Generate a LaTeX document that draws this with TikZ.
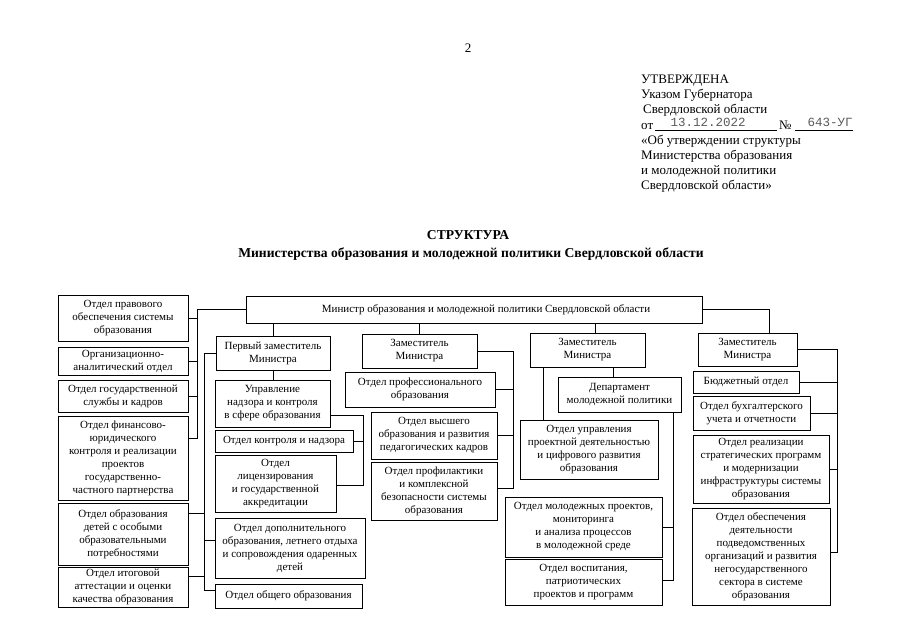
\documentclass[tikz,border=0pt]{standalone}
\usepackage{fontspec}
\setmainfont{Liberation Serif}
\newfontfamily\stampfont{Liberation Mono}
\newcommand\mybox[6]{%
  \node[bx, minimum width={#4pt-#2pt}, minimum height={#5pt-#3pt}] (#1) at ({(#2+#4)/2},{(#3+#5)/2}) {#6};}
\begin{document}
\begin{tikzpicture}[x=1pt,y=-1pt,
  bx/.style={draw, line width=0.9pt, inner sep=0pt, outer sep=0pt, align=center,
             font=\fontsize{11}{13}\selectfont},
  ln/.style={line width=0.7pt},
  hd/.style={inner sep=0pt, font=\fontsize{13}{15}\selectfont},
  stamp/.style={inner sep=0pt, text=black!65, font=\stampfont\fontsize{12.5}{15}\selectfont},
  ttl/.style={inner sep=0pt, font=\bfseries\fontsize{13.6}{15}\selectfont}]
\useasboundingbox (0,0) rectangle (905,640);

% page number and header
\node[hd] (pg) at (468,48) {2};
\node[hd, anchor=base west] (h1) at (641,83) {УТВЕРЖДЕНА};
\node[hd, anchor=base west] (h2) at (641,98) {Указом Губернатора};
\node[hd, anchor=base west] (h3) at (643,113) {Свердловской области};
\node[hd, anchor=base west] (h4) at (641,129) {от};
\draw[line width=0.6pt] (655,130) -- (777,130);
\node[stamp, anchor=base] (date) at (708,126) {13.12.2022};
\node[hd, anchor=base west] (no) at (779,129) {№};
\draw[line width=0.6pt] (795,130) -- (853,130);
\node[stamp, anchor=base] (num) at (830,126) {643-УГ};
\node[hd, anchor=base west] (h5) at (641,144) {«Об утверждении структуры};
\node[hd, anchor=base west] (h6) at (641,159) {Министерства образования};
\node[hd, anchor=base west] (h7) at (641,174) {и молодежной политики};
\node[hd, anchor=base west] (h8) at (641,189) {Свердловской области»};

% title
\node[ttl] (t1) at (468,235) {СТРУКТУРА};
\node[ttl] (t2) at (471,254) {Министерства образования и молодежной политики Свердловской области};

% minister
\mybox{min}{246}{296}{702}{323}{\raisebox{2pt}{\hspace*{24pt}Министр образования и молодежной политики Свердловской области}}

% left column
\mybox{l1}{58}{295}{188}{341}{Отдел правового\\обеспечения системы\\образования}
\mybox{l2}{58}{347}{188}{375}{Организационно-\\аналитический отдел}
\mybox{l3}{58}{380}{188}{412}{Отдел государственной\\службы и кадров}
\mybox{l4}{58}{416}{188}{500}{Отдел финансово-\\юридического\\контроля и реализации\\проектов\\государственно-\\частного партнерства}
\mybox{l5}{58}{503}{188}{565}{Отдел образования\\детей с особыми\\образовательными\\потребностями}
\mybox{l6}{58}{567}{188}{607}{Отдел итоговой\\аттестации и оценки\\качества образования}

% first deputy column
\mybox{d1}{216}{336}{330}{370}{Первый заместитель\\Министра}
\mybox{u1}{215}{380}{330}{427}{Управление\\надзора и контроля\\в сфере образования}
\mybox{k1}{215}{430}{353}{452}{Отдел контроля и надзора}
\mybox{lic}{215}{455}{336}{512}{Отдел\\лицензирования\\и государственной\\аккредитации}
\mybox{dop}{215}{518}{365}{578}{Отдел дополнительного\\образования, летнего отдыха\\и сопровождения одаренных\\детей}
\mybox{obsh}{215}{584}{362}{608}{Отдел общего образования}

% second deputy column
\mybox{d2}{362}{334}{477}{368}{Заместитель\\Министра}
\mybox{p2a}{345}{372}{495}{407}{Отдел профессионального\\образования}
\mybox{p2b}{371}{412}{497}{459}{Отдел высшего\\образования и развития\\педагогических кадров}
\mybox{p2c}{371}{462}{497}{520}{Отдел профилактики\\и комплексной\\безопасности системы\\образования}

% third deputy column
\mybox{d3}{530}{333}{645}{367}{Заместитель\\Министра}
\mybox{dep}{558}{377}{681}{412}{Департамент\\молодежной политики}
\mybox{pr3}{520}{420}{658}{479}{Отдел управления\\проектной деятельностью\\и цифрового развития\\образования}
\mybox{my3}{505}{497}{662}{557}{Отдел молодежных проектов,\\мониторинга\\и анализа процессов\\в молодежной среде}
\mybox{vo3}{505}{559}{662}{605}{Отдел воспитания,\\патриотических\\проектов и программ}

% fourth deputy column
\mybox{d4}{698}{333}{797}{366}{Заместитель\\Министра}
\mybox{bd4}{693}{371}{799}{393}{Бюджетный отдел}
\mybox{bu4}{693}{396}{810}{430}{Отдел бухгалтерского\\учета и отчетности}
\mybox{re4}{693}{435}{829}{503}{Отдел реализации\\стратегических программ\\и модернизации\\инфраструктуры системы\\образования}
\mybox{ob4}{692}{508}{830}{605}{Отдел обеспечения\\деятельности\\подведомственных\\организаций и развития\\негосударственного\\сектора в системе\\образования}

% bus coordinates
\coordinate (busL) at (197,0);
\coordinate (busLend) at (197,438);
\coordinate (busA) at (204,0);
\coordinate (busAend) at (204,590);
\coordinate (busU) at (363,0);
\coordinate (busUtop) at (363,415);
\coordinate (busUend) at (363,485);
\coordinate (busB) at (513,0);
\coordinate (busBend) at (513,488);
\coordinate (xD3) at (595,0);
\coordinate (xP) at (543,0);
\coordinate (xD) at (613,0);
\coordinate (busC) at (673,0);
\coordinate (busCend) at (673,580);
\coordinate (xE) at (769,0);
\coordinate (busD) at (837,0);
\coordinate (busDend) at (837,552);

% left bus
\draw[ln] (min.west) -| (busLend) -- (busLend -| l4.east);
\draw[ln] (l1.east) -- (l1.east -| busL);
\draw[ln] (l2.east) -- (l2.east -| busL);
\draw[ln] (l3.east) -- (l3.east -| busL);

% first deputy
\draw[ln] (d1.north) -- (d1.north |- min.south);
\draw[ln] (d1.south) -- (d1.south |- u1.north);
\draw[ln] (d1.west) -| (busAend) -- (busAend -| obsh.west);
\draw[ln] ([yshift=21pt]l5.east) -- ([yshift=21pt]l5.east -| busA);
\draw[ln] ([yshift=11pt]l6.east) -- ([yshift=11pt]l6.east -| busA);
\draw[ln] ([yshift=8pt]dop.west) -- ([yshift=8pt]dop.west -| busA);
\draw[ln] (u1.east |- busUtop) -- (busUtop) -- (busUend) -- (busUend -| lic.east);
\draw[ln] (k1.east) -- (k1.east -| busU);

% second deputy
\draw[ln] (d2.north) -- (d2.north |- min.south);
\draw[ln] (d2.east) -| (busBend) -- (busBend -| p2c.east);
\draw[ln] (p2a.east) -- (p2a.east -| busB);
\draw[ln] (p2b.east) -- (p2b.east -| busB);

% third deputy
\draw[ln] (min.south -| xD3) -- (d3.north -| xD3);
\draw[ln] (d3.south -| xP) -- (pr3.north -| xP);
\draw[ln] (d3.south -| xD) -- (dep.north -| xD);
\draw[ln] (dep.south -| busC) -- (busCend) -- (busCend -| vo3.east);
\draw[ln] (my3.east) -- (my3.east -| busC);

% fourth deputy
\draw[ln] (min.east) -| (d4.north -| xE);
\draw[ln] (d4.east) -| (busDend) -- (busDend -| ob4.east);
\draw[ln] (bd4.east) -- (bd4.east -| busD);
\draw[ln] (bu4.east) -- (bu4.east -| busD);
\draw[ln] (re4.east) -- (re4.east -| busD);
\end{tikzpicture}
\end{document}
